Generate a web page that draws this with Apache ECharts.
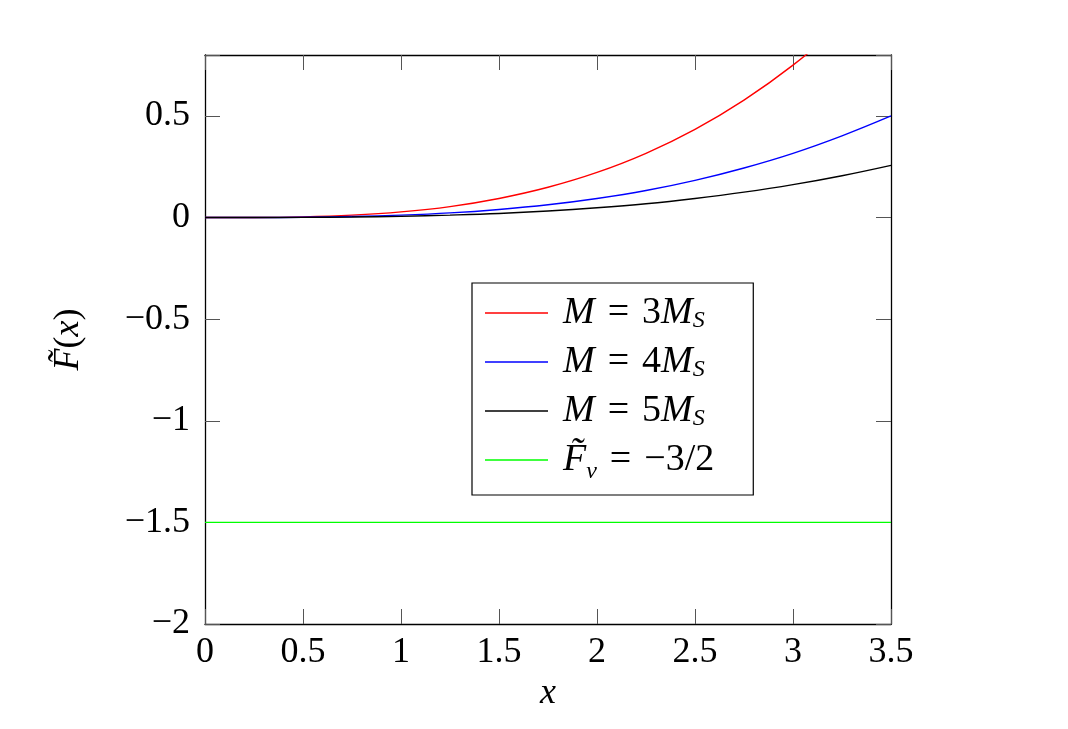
<!DOCTYPE html>
<html>
<head>
<meta charset="utf-8">
<script src="https://cdn.jsdelivr.net/npm/echarts@6/dist/echarts.min.js"></script>
<style>
html,body{margin:0;padding:0;background:#fff;}
#c{width:1068px;height:729px;}
</style>
</head>
<body>
<div id="c"></div>
<script>
// x positions where the curves were read
const xs = [0, 0.25, 0.5, 0.75, 1, 1.25, 1.5, 1.75, 2, 2.25, 2.5, 2.75, 3, 3.25, 3.5];
// M = 3 M_S
const red = [0, 0.0004, 0.0035, 0.012, 0.028, 0.054, 0.094, 0.149, 0.222, 0.316, 0.434, 0.578, 0.75, 0.953, 1.19];
// M = 4 M_S
const blue = [0, 0.0002, 0.0015, 0.005, 0.012, 0.023, 0.040, 0.063, 0.094, 0.133, 0.183, 0.244, 0.316, 0.402, 0.5];
// M = 5 M_S
const black = [0, 0.0001, 0.0008, 0.0025, 0.006, 0.012, 0.020, 0.032, 0.048, 0.068, 0.094, 0.125, 0.162, 0.206, 0.257];
// F_v = -3/2
const greenX = [0, 3.5];
const greenY = [-1.5, -1.5];

const xTicks = [0, 0.5, 1, 1.5, 2, 2.5, 3, 3.5];
const yTicks = [-2, -1.5, -1, -0.5, 0, 0.5];

const seriesNames = ['M3', 'M4', 'M5', 'Fv'];
const legendLabels = {
  M3: '{f|M}{e|=}{n|3}{i|M}{s|S}',
  M4: '{f|M}{e|=}{n|4}{i|M}{s|S}',
  M5: '{f|M}{e|=}{n|5}{i|M}{s|S}',
  Fv: '{t|F\u0303}{s2|v}{e|=}{n|\u22123/2}'
};

const FONT = '"Liberation Serif", "DejaVu Serif", serif';
const FS = 36;
const LFS = 38;

function fmt(v) {
  const ok = yTicks.some(t => Math.abs(t - v) < 1e-9) || xTicks.some(t => Math.abs(t - v) < 1e-9);
  if (!ok) return '';
  return String(+v.toFixed(2)).replace('-', '\u2212');
}

function pairs(xa, ya) { return xa.map((x, i) => [x, ya[i]]); }

const chart = echarts.init(document.getElementById('c'), null, {renderer: 'canvas'});

const tickStyle = {show: true, inside: true, length: 15, lineStyle: {color: '#555', width: 1}};
const lineAxis = {show: true, onZero: false, lineStyle: {color: '#000', width: 1.3}};

const richBase = {
  i: {fontFamily: FONT, fontStyle: 'italic', fontSize: FS, lineHeight: 40, color: '#000'},
  n: {fontFamily: FONT, fontSize: FS, lineHeight: 40, color: '#000'}
};
const richLegend = {
  f: {fontFamily: FONT, fontStyle: 'italic', fontSize: LFS, lineHeight: 40, color: '#000', padding: [0, 0, 0, 10]},
  i: {fontFamily: FONT, fontStyle: 'italic', fontSize: LFS, lineHeight: 40, color: '#000'},
  n: {fontFamily: FONT, fontSize: LFS, lineHeight: 40, color: '#000'},
  e: {fontFamily: FONT, fontSize: LFS, lineHeight: 40, color: '#000', padding: [0, 13, 0, 13]},
  s: {fontFamily: FONT, fontStyle: 'italic', fontSize: 24, lineHeight: 20, verticalAlign: 'bottom', color: '#000'},
  t: {fontFamily: FONT, fontStyle: 'italic', fontSize: LFS, lineHeight: 48, color: '#000', padding: [0, 0, 0, 10]},
  s2: {fontFamily: FONT, fontStyle: 'italic', fontSize: 24, lineHeight: 28, verticalAlign: 'bottom', color: '#000'}
};

chart.setOption({
  animation: false,
  backgroundColor: '#fff',
  grid: {left: 205, right: 177, top: 55, bottom: 105, containLabel: false, outerBoundsMode: 'none'},
  legend: {
    orient: 'vertical',
    left: 472, top: 283,
    data: seriesNames,
    formatter: n => legendLabels[n],
    icon: 'rect',
    itemWidth: 63, itemHeight: 1.5, itemGap: 10,
    padding: [11, 39, 11, 13],
    borderColor: '#000', borderWidth: 1.2, borderRadius: 0,
    backgroundColor: '#fff',
    selectedMode: false,
    textStyle: {fontFamily: FONT, fontSize: LFS, color: '#000', rich: richLegend}
  },
  xAxis: [{
    type: 'value', min: 0, max: 3.5, interval: 0.5, position: 'bottom',
    axisLine: lineAxis, axisTick: tickStyle, splitLine: {show: false},
    axisLabel: {formatter: fmt, fontFamily: FONT, fontSize: FS, color: '#000', margin: 11},
    name: '{i|x}', nameLocation: 'middle', nameGap: 50,
    nameTextStyle: {rich: richBase}
  }, {
    type: 'value', min: 0, max: 3.5, interval: 0.5, position: 'top',
    axisLine: lineAxis, axisTick: tickStyle, splitLine: {show: false},
    axisLabel: {show: false}
  }],
  yAxis: [{
    type: 'value', min: -2, max: 0.8, interval: 0.5, position: 'left',
    axisLine: lineAxis, axisTick: tickStyle, splitLine: {show: false},
    axisLabel: {formatter: fmt, fontFamily: FONT, fontSize: FS, color: '#000', margin: 15},
    name: '{i|F\u0303}{n|(}{i|x}{n|)}', nameLocation: 'middle', nameGap: 116,
    nameTextStyle: {rich: richBase}
  }, {
    type: 'value', min: -2, max: 0.8, interval: 0.5, position: 'right',
    axisLine: lineAxis, axisTick: tickStyle, splitLine: {show: false},
    axisLabel: {show: false}
  }],
  series: [
    {name: 'M3', type: 'line', data: pairs(xs, red), smooth: 0.4, symbol: 'none', clip: true,
     lineStyle: {color: '#ff0000', width: 1.4}, itemStyle: {color: '#ff0000'}},
    {name: 'M4', type: 'line', data: pairs(xs, blue), smooth: 0.4, symbol: 'none', clip: true,
     lineStyle: {color: '#0000ff', width: 1.4}, itemStyle: {color: '#0000ff'}},
    {name: 'M5', type: 'line', data: pairs(xs, black), smooth: 0.4, symbol: 'none', clip: true,
     lineStyle: {color: '#000000', width: 1.4}, itemStyle: {color: '#000000'}},
    {name: 'Fv', type: 'line', data: pairs(greenX, greenY), symbol: 'none', clip: true,
     lineStyle: {color: '#00ff00', width: 1.4}, itemStyle: {color: '#00ff00'}}
  ]
});
</script>
</body>
</html>
